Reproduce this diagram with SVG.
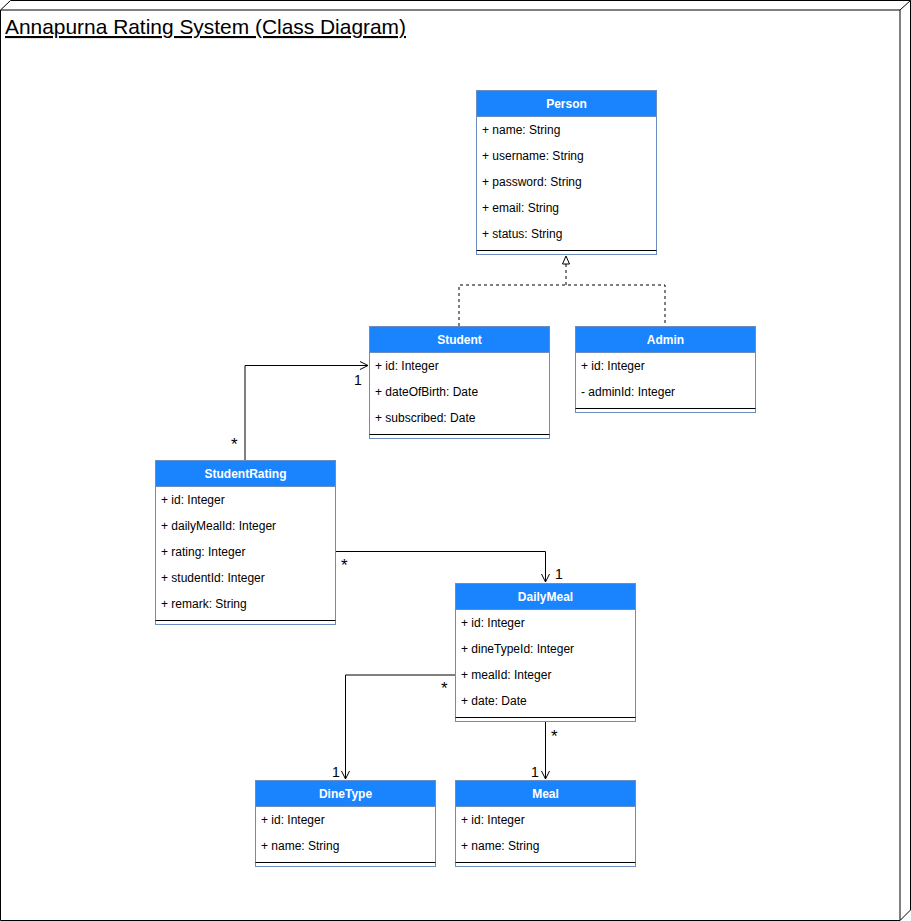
<svg xmlns="http://www.w3.org/2000/svg" width="911" height="921" viewBox="0 0 911 921">
<defs>
<style>
text{font-family:"Liberation Sans",Arial,Helvetica,sans-serif;fill:#000}
.hd{fill:#1a84ff;stroke:#6c8ebf;stroke-width:1}
.bd{fill:#fff;stroke:#6c8ebf;stroke-width:1}
.dv{stroke:#000;stroke-width:1}
.ht{font-size:12px;font-weight:bold;fill:#fff;text-anchor:middle}
.ft{font-size:12px}
.ml{font-size:14px}
.st{font-size:17px}
.ln{fill:none;stroke:#000;stroke-width:1}
.dash{stroke-dasharray:3 3}
</style>
<marker id="open" viewBox="0 0 10 10" refX="9" refY="5" markerWidth="10" markerHeight="10" markerUnits="userSpaceOnUse" orient="auto">
<path d="M1,1 L9,5 L1,9" fill="none" stroke="#000" stroke-width="1"/>
</marker>
<marker id="tri" viewBox="0 0 10 10" refX="9" refY="5" markerWidth="10" markerHeight="10" markerUnits="userSpaceOnUse" orient="auto">
<path d="M1,1.5 L9,5 L1,8.5 Z" fill="#fff" stroke="#000" stroke-width="1"/>
</marker>
</defs>
<g id="frame">
<path d="M0.5,10 L10.5,0.5 L910.5,0.5 L910.5,910 L900,920.5 L0.5,920.5 Z" fill="#fff" stroke="#000"/>
<path d="M0.5,10 L900,10 L910.5,0.5 M900,10 L900,920.5" fill="none" stroke="#000"/>
<text x="5" y="34" textLength="401" lengthAdjust="spacingAndGlyphs" style="font-size:21px;text-decoration:underline">Annapurna Rating System (Class Diagram)</text>
</g>
<g id="connectors">
<path class="ln dash" d="M566,285 L566,256" marker-end="url(#tri)"/>
<path class="ln dash" d="M459,326 L459,285 L665,285 L665,326"/>
<path class="ln" d="M245,460 L245,365.5 L368,365.5" marker-end="url(#open)"/>
<text class="st" x="231" y="450">*</text>
<text class="ml" x="354" y="385">1</text>
<path class="ln" d="M335,551.5 L545.5,551.5 L545.5,582" marker-end="url(#open)"/>
<text class="st" x="341" y="571">*</text>
<text class="ml" x="555" y="579">1</text>
<path class="ln" d="M455,675 L345.5,675 L345.5,779" marker-end="url(#open)"/>
<text class="st" x="441" y="694">*</text>
<text class="ml" x="332" y="777">1</text>
<path class="ln" d="M545.5,721 L545.5,779" marker-end="url(#open)"/>
<text class="st" x="551" y="742">*</text>
<text class="ml" x="531" y="777">1</text>
</g>
<g id="Person">
<rect class="bd" x="476.5" y="90.5" width="180" height="164"/>
<rect class="hd" x="476.5" y="90.5" width="180" height="26"/>
<text class="ht" x="566.5" y="108">Person</text>
<text class="ft" x="482" y="134">+ name: String</text>
<text class="ft" x="482" y="160">+ username: String</text>
<text class="ft" x="482" y="186">+ password: String</text>
<text class="ft" x="482" y="212">+ email: String</text>
<text class="ft" x="482" y="238">+ status: String</text>
<line class="dv" x1="476.5" y1="250.5" x2="656.5" y2="250.5"/>
</g>
<g id="Student">
<rect class="bd" x="369.5" y="326.5" width="180" height="112"/>
<rect class="hd" x="369.5" y="326.5" width="180" height="26"/>
<text class="ht" x="459.5" y="344">Student</text>
<text class="ft" x="375" y="370">+ id: Integer</text>
<text class="ft" x="375" y="396">+ dateOfBirth: Date</text>
<text class="ft" x="375" y="422">+ subscribed: Date</text>
<line class="dv" x1="369.5" y1="434.5" x2="549.5" y2="434.5"/>
</g>
<g id="Admin">
<rect class="bd" x="575.5" y="326.5" width="180" height="86"/>
<rect class="hd" x="575.5" y="326.5" width="180" height="26"/>
<text class="ht" x="665.5" y="344">Admin</text>
<text class="ft" x="581" y="370">+ id: Integer</text>
<text class="ft" x="581" y="396">- adminId: Integer</text>
<line class="dv" x1="575.5" y1="408.5" x2="755.5" y2="408.5"/>
</g>
<g id="StudentRating">
<rect class="bd" x="155.5" y="460.5" width="180" height="164"/>
<rect class="hd" x="155.5" y="460.5" width="180" height="26"/>
<text class="ht" x="245.5" y="478">StudentRating</text>
<text class="ft" x="161" y="504">+ id: Integer</text>
<text class="ft" x="161" y="530">+ dailyMealId: Integer</text>
<text class="ft" x="161" y="556">+ rating: Integer</text>
<text class="ft" x="161" y="582">+ studentId: Integer</text>
<text class="ft" x="161" y="608">+ remark: String</text>
<line class="dv" x1="155.5" y1="620.5" x2="335.5" y2="620.5"/>
</g>
<g id="DailyMeal">
<rect class="bd" x="455.5" y="583.5" width="180" height="138"/>
<rect class="hd" x="455.5" y="583.5" width="180" height="26"/>
<text class="ht" x="545.5" y="601">DailyMeal</text>
<text class="ft" x="461" y="627">+ id: Integer</text>
<text class="ft" x="461" y="653">+ dineTypeId: Integer</text>
<text class="ft" x="461" y="679">+ mealId: Integer</text>
<text class="ft" x="461" y="705">+ date: Date</text>
<line class="dv" x1="455.5" y1="717.5" x2="635.5" y2="717.5"/>
</g>
<g id="DineType">
<rect class="bd" x="255.5" y="780.5" width="180" height="86"/>
<rect class="hd" x="255.5" y="780.5" width="180" height="26"/>
<text class="ht" x="345.5" y="798">DineType</text>
<text class="ft" x="261" y="824">+ id: Integer</text>
<text class="ft" x="261" y="850">+ name: String</text>
<line class="dv" x1="255.5" y1="862.5" x2="435.5" y2="862.5"/>
</g>
<g id="Meal">
<rect class="bd" x="455.5" y="780.5" width="180" height="86"/>
<rect class="hd" x="455.5" y="780.5" width="180" height="26"/>
<text class="ht" x="545.5" y="798">Meal</text>
<text class="ft" x="461" y="824">+ id: Integer</text>
<text class="ft" x="461" y="850">+ name: String</text>
<line class="dv" x1="455.5" y1="862.5" x2="635.5" y2="862.5"/>
</g>
</svg>
